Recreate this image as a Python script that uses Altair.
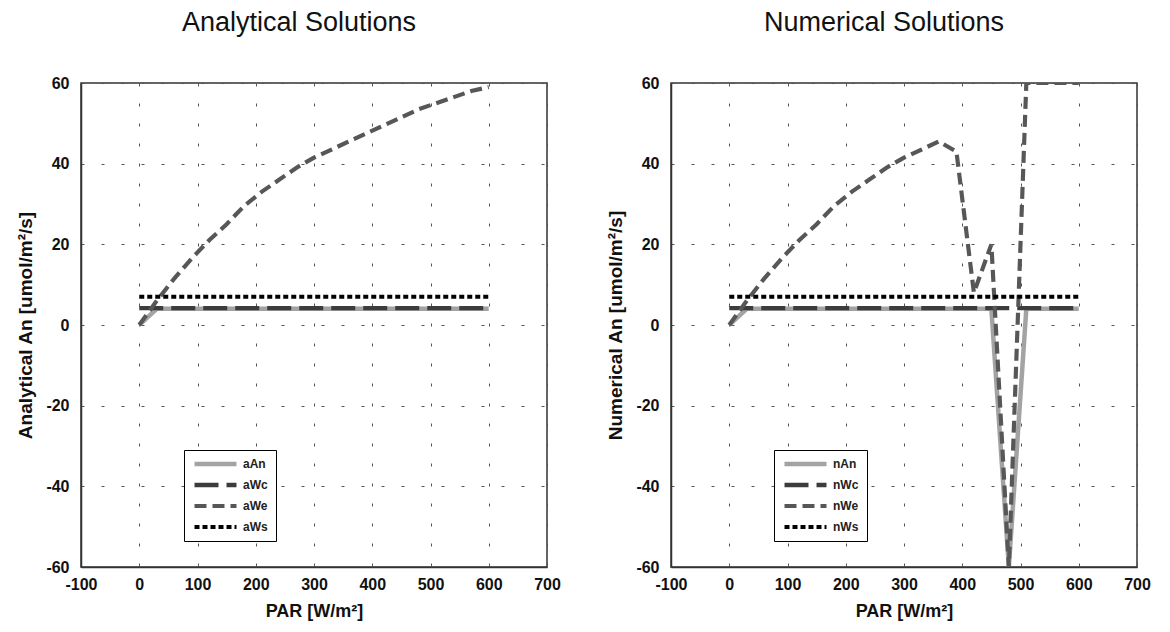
import altair as alt
import pandas as pd

# ---- data ----
PAR = [0, 30, 60, 90, 120, 150, 180, 210, 240, 270, 300, 330, 360, 390, 420, 450, 480, 510, 540, 570, 600]

aAn = [0, 4, 4, 4, 4, 4, 4, 4, 4, 4, 4, 4, 4, 4, 4, 4, 4, 4, 4, 4, 4]
aWc = [4.2] * 21
aWe = [0, 6, 11.5, 16.5, 21, 25, 29.5, 33, 36, 39, 41.5, 43.5, 45.5, 47.5, 49.5, 51.5, 53.5, 55, 56.5, 58, 59]
aWs = [7] * 21

nAn = [0, 4, 4, 4, 4, 4, 4, 4, 4, 4, 4, 4, 4, 4, 4, 4, -60, 4, 4, 4, 4]
nWc = [4.2] * 21
nWe = [0, 6, 11.5, 16.5, 21, 25, 29.5, 33, 36, 39, 41.5, 43.5, 45.5, 43, 8, 20, -60, 60, 60, 60, 60]
nWs = [7] * 21

a_names = ["aAn", "aWc", "aWe", "aWs"]
n_names = ["nAn", "nWc", "nWe", "nWs"]

FONT = "Liberation Sans"
colors = ["#a3a3a3", "#3c3c3c", "#575757", "#000000"]
dashes = [[1, 0], [24, 8], [12, 6], [5, 3]]
widths = [4.5, 4, 5, 4]

HYPHEN_LABEL = "(datum.value < 0 ? '-' : '') + abs(datum.value)"


def long_frame(names, series):
    rows = []
    for name, vals in zip(names, series):
        for p, v in zip(PAR, vals):
            rows.append({"PAR": p, "value": v, "series": name})
    return pd.DataFrame(rows)


def panel(names, series, title, ytitle, dx):
    df = long_frame(names, series)
    legend = alt.Legend(
        orient="none", legendX=103, legendY=367, title=None,
        symbolType="stroke", symbolSize=1764, clipHeight=12,
        labelFont=FONT, labelFontSize=12, labelFontWeight="bold", labelColor="#222",
        strokeColor="black", fillColor="white", padding=8, rowPadding=9,
        cornerRadius=0, labelOffset=4,
    )
    chart = alt.Chart(df).mark_line(clip=True, strokeCap="butt").encode(
        x=alt.X("PAR:Q", scale=alt.Scale(domain=[-100, 700], nice=False),
                axis=alt.Axis(values=list(range(-100, 701, 100)), title="PAR [W/m²]",
                              labelExpr=HYPHEN_LABEL)),
        y=alt.Y("value:Q", scale=alt.Scale(domain=[-60, 60], nice=False),
                axis=alt.Axis(values=list(range(-60, 61, 20)), title=ytitle,
                              labelExpr=HYPHEN_LABEL)),
        color=alt.Color("series:N", scale=alt.Scale(domain=names, range=colors), legend=legend),
        strokeDash=alt.StrokeDash("series:N", scale=alt.Scale(domain=names, range=dashes), legend=legend),
        strokeWidth=alt.StrokeWidth("series:N", scale=alt.Scale(domain=names, range=widths), legend=legend),
    ).properties(
        width=466, height=484,
        title=alt.TitleParams(title, fontSize=27, fontWeight="normal", font=FONT,
                              color="#111", anchor="middle", dx=dx, offset=38),
    )
    return chart


left = panel(a_names, [aAn, aWc, aWe, aWs], "Analytical Solutions", "Analytical An [umol/m²/s]", -15)
right = panel(n_names, [nAn, nWc, nWe, nWs], "Numerical Solutions", "Numerical An [umol/m²/s]", -20)

chart = alt.hconcat(left, right, spacing=124, bounds="flush").resolve_scale(
    color="independent", strokeDash="independent", strokeWidth="independent"
).resolve_legend(
    color="independent", strokeDash="independent", strokeWidth="independent"
).configure(
    padding={"left": 16, "top": 8, "right": 5, "bottom": 5},
    background="white",
).configure_view(
    stroke="#333", strokeWidth=1.5,
).configure_axis(
    labelFont=FONT, labelFontSize=16, labelFontWeight="bold", labelColor="#111",
    titleFont=FONT, titleFontWeight="bold", titleColor="#111",
    domainColor="#333", domainWidth=1.5,
    ticks=False, labelPadding=10, labelFlush=False, labelOverlap=False,
    grid=True, gridColor="#555", gridDash=[3, 17], gridWidth=1,
).configure_axisX(
    titleFontSize=18, titlePadding=10, labelPadding=9,
).configure_axisY(
    titleFontSize=19, titlePadding=10, labelPadding=12,
)

chart.save("out.html", embed_options={"renderer": "svg", "actions": False})
